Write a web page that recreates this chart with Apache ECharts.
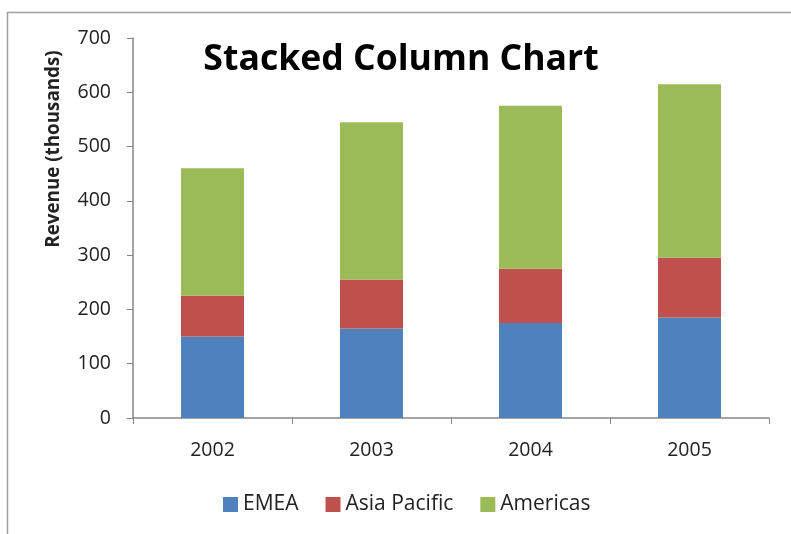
<!DOCTYPE html>
<html>
<head>
<meta charset="utf-8">
<script src="https://cdn.jsdelivr.net/npm/echarts@6/dist/echarts.min.js"></script>
<style>
  html, body { margin: 0; padding: 0; background: #fff; }
  #chart { width: 791px; height: 534px; }
</style>
</head>
<body>
<div id="chart"></div>
<script>
// Revenue by region, in thousands
const years = ['2002', '2003', '2004', '2005'];
const emea = [150, 165, 175, 185];
const asiaPacific = [75, 90, 100, 110];
const americas = [235, 290, 300, 320];
const yTicks = { min: 0, max: 700, interval: 100 };

const font = 'Open Sans, Noto Sans, sans-serif';
const chart = echarts.init(document.getElementById('chart'));

function barSeries(name, data, color) {
  return {
    name: name,
    type: 'bar',
    stack: 'total',
    data: data,
    barWidth: 63,
    itemStyle: { color: color },
    emphasis: { disabled: true }
  };
}

chart.setOption({
  animation: false,
  backgroundColor: '#fff',
  grid: { left: 133, right: 22, top: 38, bottom: 116 },
  graphic: [
    {
      type: 'rect',
      shape: { x: 7.5, y: 12.5, width: 900, height: 700 },
      style: { fill: 'none', stroke: '#a0a0a0', lineWidth: 1.5 },
      silent: true
    },
    {
      type: 'text',
      x: 401, y: 60,
      style: {
        text: 'Stacked Column Chart',
        font: 'bold 35.6px ' + font,
        fill: '#000',
        align: 'center',
        verticalAlign: 'middle'
      }
    },
    {
      type: 'text',
      x: 54, y: 149,
      rotation: Math.PI / 2,
      style: {
        text: 'Revenue (thousands)',
        font: 'bold 18.8px ' + font,
        fill: '#222',
        align: 'center',
        verticalAlign: 'middle'
      }
    }
  ],
  legend: {
    top: 489,
    left: 218,
    itemWidth: 15,
    itemHeight: 15,
    itemGap: 27,
    icon: 'rect',
    textStyle: { fontSize: 21, color: '#222', fontFamily: font },
    data: ['EMEA', 'Asia Pacific', 'Americas']
  },
  xAxis: {
    type: 'category',
    data: years,
    axisLine: { lineStyle: { color: '#868686', width: 1.5 } },
    axisTick: { show: true, length: 6, inside: false, lineStyle: { color: '#868686' } },
    axisLabel: { fontSize: 19.5, color: '#222', margin: 22, fontFamily: font }
  },
  yAxis: {
    type: 'value',
    min: yTicks.min,
    max: yTicks.max,
    interval: yTicks.interval,
    splitLine: { show: false },
    axisLine: { show: true, lineStyle: { color: '#868686', width: 1.5 } },
    axisTick: { show: true, length: 6, lineStyle: { color: '#868686' } },
    axisLabel: { fontSize: 19.5, color: '#222', margin: 22, fontFamily: font }
  },
  series: [
    barSeries('EMEA', emea, '#4F81BD'),
    barSeries('Asia Pacific', asiaPacific, '#C0504D'),
    barSeries('Americas', americas, '#9BBB59')
  ]
});
</script>
</body>
</html>
